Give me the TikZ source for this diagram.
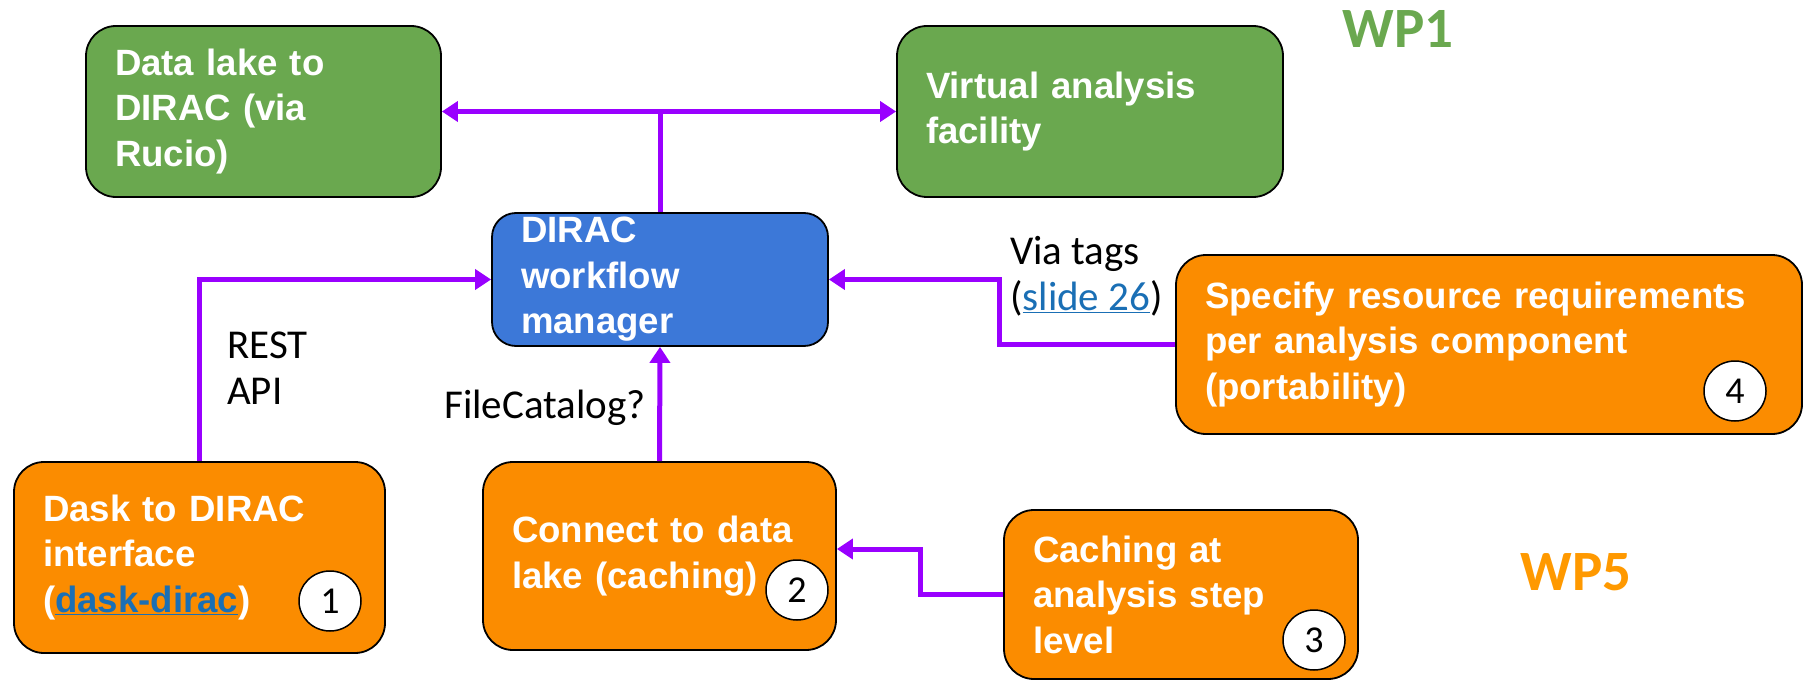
\documentclass[tikz,border=0pt]{standalone}
\usepackage{fontspec}
\setmainfont{Liberation Sans}
\newfontfamily\lblfont{Carlito}
\usetikzlibrary{arrows.meta,calc,shapes.geometric}
\definecolor{wpgreen}{HTML}{6AA84F}
\definecolor{wpblue}{HTML}{3C78D8}
\definecolor{wporange}{HTML}{FB8C00}
\definecolor{wplabel}{HTML}{FF9900}
\definecolor{arrowpurple}{HTML}{9900FF}
\definecolor{linkblue}{HTML}{1A6FB5}
\tikzset{
  box/.style={draw=black, line width=1.8pt, rounded corners=30pt, inner xsep=29pt, inner ysep=0pt,
    align=left, text=white, font=\fontsize{36.6}{45.5}\selectfont\bfseries},
  greenbox/.style={box, fill=wpgreen},
  bluebox/.style={box, fill=wpblue},
  orangebox/.style={box, fill=wporange},
  conn/.style={draw=arrowpurple, line width=5pt},
  arr/.style={conn, -{Triangle[length=16pt,width=20pt]}},
  dblarr/.style={conn, {Triangle[length=16pt,width=20pt]}-{Triangle[length=16pt,width=20pt]}},
  numcircle/.style={draw=black, line width=1.5pt, fill=white, ellipse, minimum width=62pt, minimum height=60pt, inner sep=0pt,
    font=\lblfont\fontsize{38}{38}\selectfont},
  lbl/.style={font=\lblfont\fontsize{41}{46}\selectfont, align=left, inner sep=0pt},
  wp/.style={font=\lblfont\fontsize{57}{57}\selectfont\bfseries, inner sep=0pt}
}
\begin{document}
\begin{tikzpicture}[x=1pt,y=-1pt]
\useasboundingbox (0,0) rectangle (1804,682);
% boxes
\node[greenbox, text width=297pt, minimum height=171pt] (dl) at (263.5,111.5) {Data lake to\\DIRAC (via\\Rucio)};
\node[greenbox, text width=328pt, minimum height=171pt] (vaf) at (1090,111.5) {Virtual analysis\\facility};
\node[bluebox, text width=278pt, minimum height=133pt, rounded corners=24pt] (dwm) at (660,279.5) {DIRAC\\workflow\\manager};
\node[orangebox, text width=313pt, minimum height=191pt] (dask) at (199.5,557.5) {Dask to DIRAC\\interface\\({\color{linkblue}\underline{dask-dirac}})};
\node[orangebox, text width=295pt, minimum height=188pt] (conn) at (659.5,556) {Connect to data\\lake (caching)};
\node[orangebox, text width=296pt, minimum height=169pt] (cach) at (1181,594.5) {Caching at\\analysis step\\level};
\node[orangebox, text width=568pt, minimum height=179pt] (spec) at (1489,344.5) {Specify resource requirements\\per analysis component\\(portability)};
% number circles
\node[numcircle] (n1) at (330,601) {1};
\node[numcircle] (n2) at (797,590) {2};
\node[numcircle] (n3) at (1314,640) {3};
\node[numcircle] (n4) at (1735,391) {4};
% WP labels
\node[wp, text=wpgreen] (wp1) at (1398,29) {WP1};
\node[wp, text=wplabel] (wp5) at (1576,572) {WP5};
% connectors
\draw[dblarr] (dl.east) -- (vaf.west);
\coordinate (top) at (dwm.north |- dl.east);
\draw[conn] (dwm.north) -- (top);
\draw[arr] (dask.north) |- (dwm.west);
\draw[arr] (conn.north) -- (dwm.south);
\coordinate (sbend) at (999,344.5);
\draw[arr] (spec.west) -- (sbend) |- (dwm.east);
\coordinate (cbend) at (920,549);
\draw[arr] (cach.west) -| (cbend) -- (cbend -| conn.east);
% labels
\node[lbl, anchor=west] (rest) at (227,368) {REST\\API};
\node[lbl] (fc) at (545,408) {FileCatalog?};
\node[lbl, anchor=west] (via) at (1010,276) {Via tags\\({\color{linkblue}\underline{slide 26}})};
\end{tikzpicture}
\end{document}
